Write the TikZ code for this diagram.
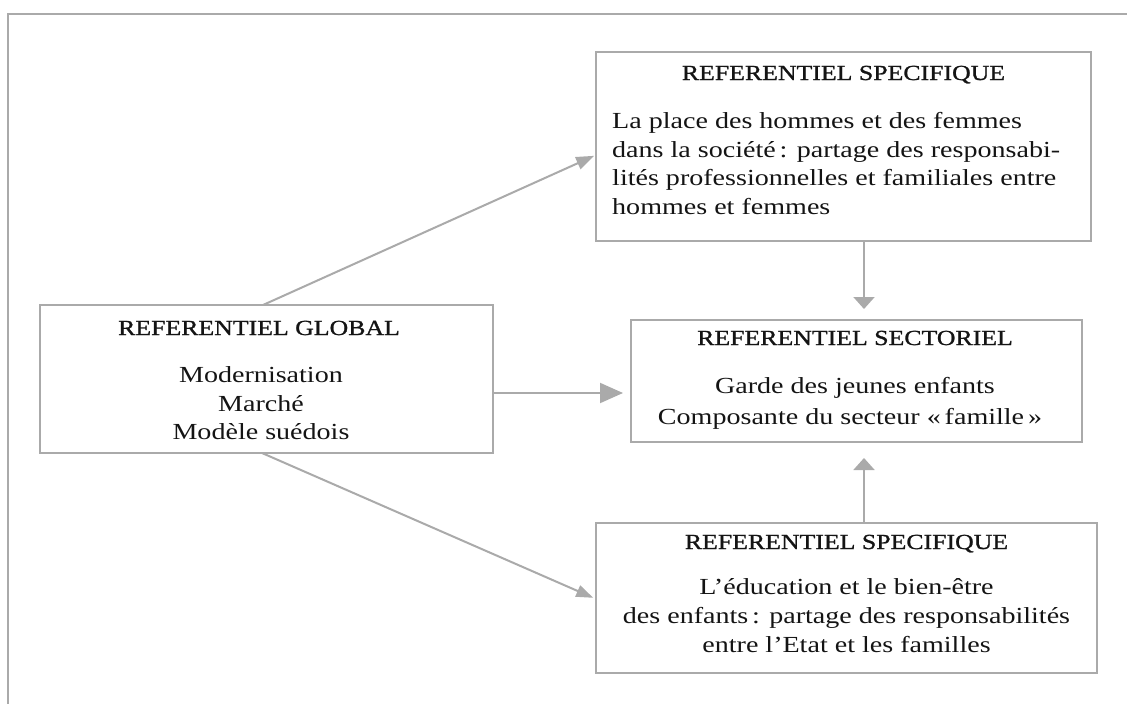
\documentclass[tikz,border=0pt]{standalone}
\usepackage{fontspec}
\setmainfont{Liberation Serif}[FakeStretch=1.22]
\newfontfamily\ttlfont{Liberation Serif}[FakeStretch=1.2,FakeBold=1.1]
\usetikzlibrary{arrows.meta,calc}
\definecolor{linegray}{RGB}{170,170,170}
\definecolor{inkc}{RGB}{20,20,20}
\tikzset{
  x=1pt,y=-1pt,
  frameline/.style={draw=linegray,line width=2pt},
  box/.style={draw=linegray,line width=2pt,inner sep=0pt,outer sep=0pt,rectangle},
  ttl/.style={text=inkc,font=\ttlfont\fontsize{21.5}{24}\selectfont,anchor=base,inner sep=0pt},
  txt/.style={text=inkc,font=\fontsize{23}{29}\selectfont,anchor=base,inner sep=0pt},
  conn/.style={draw=linegray,line width=2pt}
}
\begin{document}
\begin{tikzpicture}
\useasboundingbox (0,0) rectangle (1127,704);
% outer frame (open on right and bottom)
\coordinate (fb) at (8,704);
\coordinate (ft) at (8,14);
\coordinate (fr) at (1127,14);
\draw[frameline] (fb) -- (ft) -- (fr);

% boxes
\node[box,minimum width=495pt,minimum height=189pt] (spec1) at (843.5,146.5) {};
\node[box,minimum width=453pt,minimum height=148pt] (glob) at (266.5,379) {};
\node[box,minimum width=451pt,minimum height=122pt] (sect) at (856.5,381) {};
\node[box,minimum width=501pt,minimum height=150pt] (spec2) at (846.5,598) {};

% texts: specific (top)
\node[ttl] (s1t) at (843.5,80) {REFERENTIEL SPECIFIQUE};
\node[txt,anchor=base west] (s1a) at (612,128) {La place des hommes et des femmes};
\node[txt,anchor=base west] (s1b) at (612,157) {dans la société\,: partage des responsabi-};
\node[txt,anchor=base west] (s1c) at (612,185) {lités professionnelles et familiales entre};
\node[txt,anchor=base west] (s1d) at (612,214) {hommes et femmes};

% texts: global
\node[ttl] (gt) at (259,335) {REFERENTIEL GLOBAL};
\node[txt] (ga) at (261,382) {Modernisation};
\node[txt] (gb) at (261,411) {Marché};
\node[txt] (gc) at (261,439) {Modèle suédois};

% texts: sectoriel
\node[ttl] (st) at (855,345) {REFERENTIEL SECTORIEL};
\node[txt] (sa) at (855,393) {Garde des jeunes enfants};
\node[txt] (sb) at (850,424) {Composante du secteur «\,famille\,»};

% texts: specific (bottom)
\node[ttl] (s2t) at (846.5,549) {REFERENTIEL SPECIFIQUE};
\node[txt] (s2a) at (846.5,594) {L’éducation et le bien-être};
\node[txt] (s2b) at (846.5,623) {des enfants\,: partage des responsabilités};
\node[txt] (s2c) at (846.5,652) {entre l’Etat et les familles};

% connectors
\draw[conn,-{Triangle[length=18pt,width=13pt]},shorten >=2pt]
  ([xshift=223pt]glob.north west) -- ([yshift=-8.5pt]spec1.west);
\draw[conn,-{Triangle[length=23pt,width=20pt]},shorten >=8pt]
  (glob.east |- 0,393) -- (sect.west |- 0,393);
\draw[conn,-{Triangle[length=17pt,width=12pt]},shorten >=3pt]
  ([xshift=222pt]glob.south west) -- ([yshift=-1pt]spec2.west);
\draw[conn,-{Triangle[length=12pt,width=21pt]},shorten >=11pt]
  (spec1.south -| 864,0) -- (sect.north -| 864,0);
\draw[conn,-{Triangle[length=12pt,width=21pt]},shorten >=16pt]
  (spec2.north -| 864,0) -- (sect.south -| 864,0);
\end{tikzpicture}
\end{document}
